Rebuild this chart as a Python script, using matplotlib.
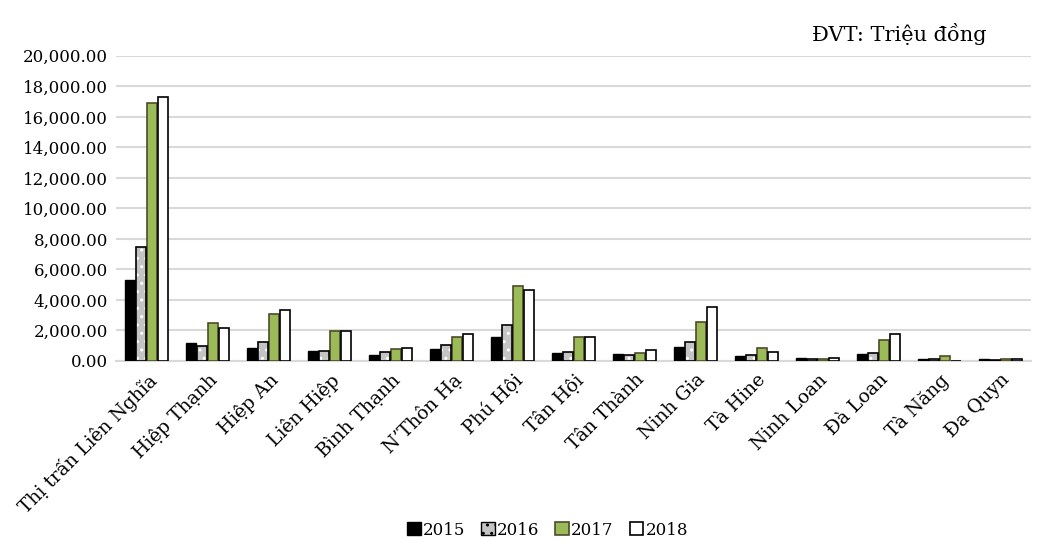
import matplotlib.pyplot as plt
import numpy as np
from matplotlib.patches import Patch

plt.rcParams['font.family'] = ['DejaVu Serif']

communes = ["Thị trấn Liên Nghĩa", "Hiệp Thạnh", "Hiệp An", "Liên Hiệp", "Bình Thạnh",
            "N’Thôn Hạ", "Phú Hội", "Tân Hội", "Tân Thành", "Ninh Gia", "Tà Hine",
            "Ninh Loan", "Đà Loan", "Tà Năng", "Đa Quyn"]
years = ["2015", "2016", "2017", "2018"]

v2015 = [5300, 1150, 850, 670, 360, 760, 1570, 540, 430, 930, 330, 220, 450, 150, 100]
v2016 = [7480, 1000, 1220, 670, 600, 1020, 2360, 610, 360, 1250, 420, 160, 500, 150, 80]
v2017 = [16880, 2500, 3100, 1960, 800, 1570, 4900, 1540, 520, 2530, 820, 130, 1400, 330, 110]
v2018 = [17280, 2180, 3360, 1990, 820, 1770, 4650, 1580, 740, 3540, 600, 180, 1750, 20, 150]

x = np.arange(len(communes))
w = 0.165
step = 0.18

fig, ax = plt.subplots(figsize=(10.49, 5.42), dpi=100)
fig.subplots_adjust(left=0.111, right=0.983, top=0.897, bottom=0.334)

ax.bar(x - 1.5 * step, v2015, w, color="black", edgecolor="black", linewidth=1, zorder=3)
# 2016: grey with white dots, drawn twice so the hatch stays white
ax.bar(x - 0.5 * step, v2016, w, color="#c4c4c4", edgecolor="white", hatch="..", linewidth=0, zorder=3)
ax.bar(x - 0.5 * step, v2016, w, color="none", edgecolor="black", linewidth=1.2, zorder=4)
ax.bar(x + 0.5 * step, v2017, w, color="#9bbb59", edgecolor="#4f4a2a", linewidth=1.2, zorder=3)
ax.bar(x + 1.5 * step, v2018, w, color="white", edgecolor="black", linewidth=1.2, zorder=3)

ax.set_xlim(-0.5, len(communes) - 0.5)
ax.set_ylim(0, 20000)
ax.set_yticks(np.arange(0, 20001, 2000))
ax.set_yticklabels([f"{v:,.2f}" for v in np.arange(0, 20001, 2000)], fontsize=12)
ax.set_xticks(x)
ax.set_xticklabels(communes, rotation=45, ha="right", rotation_mode="anchor", fontsize=13.5)
ax.tick_params(axis="both", length=0, pad=6)
ax.tick_params(axis="x", pad=7)
ax.grid(axis="y", color="#d9d9d9", linewidth=1.5, zorder=0)
for s in ["top", "right", "left"]:
    ax.spines[s].set_visible(False)
ax.spines["bottom"].set_color("#d9d9d9")
ax.spines["bottom"].set_linewidth(1.5)

fig.text(0.94, 0.937, "ĐVT: Triệu đồng", ha="right", va="center", fontsize=15)

handles = [
    Patch(facecolor="black", edgecolor="black"),
    Patch(facecolor="#c4c4c4", edgecolor="black", hatch=".."),
    Patch(facecolor="#9bbb59", edgecolor="#4f4a2a", linewidth=1.2),
    Patch(facecolor="white", edgecolor="black", linewidth=1.2),
]
fig.legend(handles, years, loc="center", bbox_to_anchor=(0.522, 0.022), ncol=4, frameon=False,
           fontsize=12, handlelength=0.8, handleheight=0.8, handletextpad=0.15, columnspacing=0.95)

plt.savefig("out.png")
